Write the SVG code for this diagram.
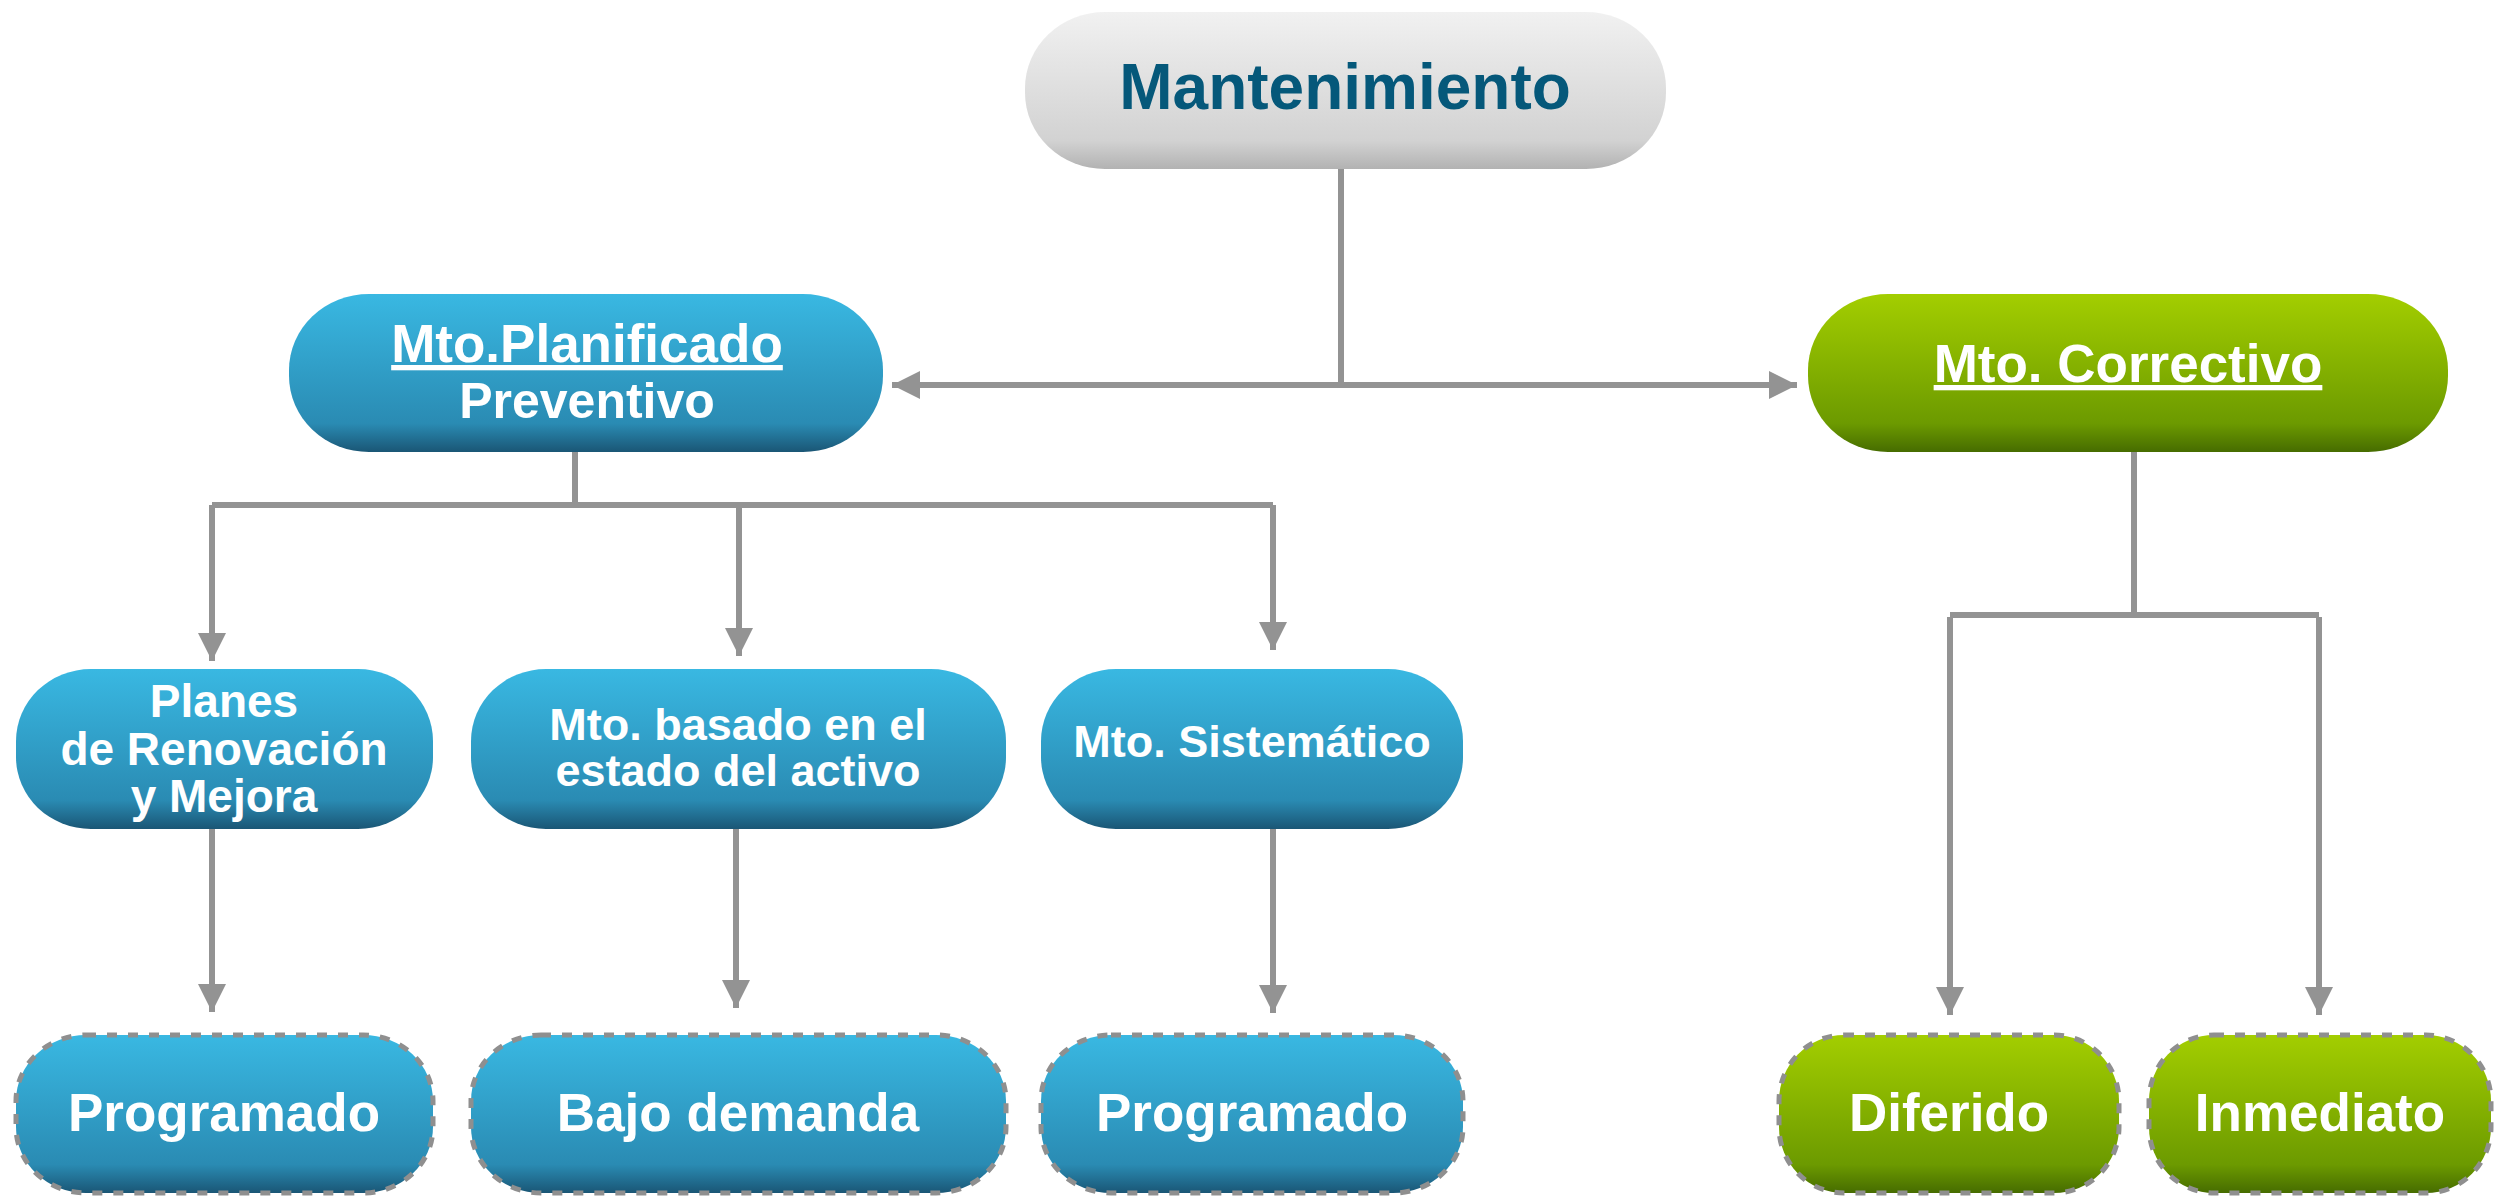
<svg xmlns="http://www.w3.org/2000/svg" width="2504" height="1197" viewBox="0 0 2504 1197">
<style>
.t{font-family:"Liberation Sans",Arial,sans-serif;font-weight:bold;fill:#ffffff;text-anchor:middle}
.c{fill:none;stroke:#939393;stroke-width:6}
.d{stroke:#8f8f8f;stroke-width:5;stroke-dasharray:10 11}
</style>
<defs>
<linearGradient id="gb" x1="0" y1="0" x2="0" y2="1">
<stop offset="0" stop-color="#39B8E2"/><stop offset="0.82" stop-color="#2A8BB3"/><stop offset="1" stop-color="#1A5675"/>
</linearGradient>
<linearGradient id="gg" x1="0" y1="0" x2="0" y2="1">
<stop offset="0" stop-color="#A3CE00"/><stop offset="0.82" stop-color="#6C9A00"/><stop offset="1" stop-color="#466C00"/>
</linearGradient>
<linearGradient id="gy" x1="0" y1="0" x2="0" y2="1">
<stop offset="0" stop-color="#F1F1F1"/><stop offset="0.82" stop-color="#D2D2D2"/><stop offset="1" stop-color="#B2B2B2"/>
</linearGradient>
<marker id="ar" viewBox="0 0 10 10" refX="10" refY="5" markerWidth="4.7" markerHeight="4.7" orient="auto" markerUnits="strokeWidth">
<path d="M0,0 L10,5 L0,10 z" fill="#939393"/>
</marker>
</defs>
<g id="connectors">
<path class="c" d="M1341,169 V385"/>
<path class="c" d="M1341,385 H892" marker-end="url(#ar)"/>
<path class="c" d="M1341,385 H1797" marker-end="url(#ar)"/>
<path class="c" d="M575,452 V505"/>
<path class="c" d="M212,505 H1273"/>
<path class="c" d="M212,505 V661" marker-end="url(#ar)"/>
<path class="c" d="M739,505 V656" marker-end="url(#ar)"/>
<path class="c" d="M1273,505 V650" marker-end="url(#ar)"/>
<path class="c" d="M212,829 V1012" marker-end="url(#ar)"/>
<path class="c" d="M736,829 V1008" marker-end="url(#ar)"/>
<path class="c" d="M1273,829 V1013" marker-end="url(#ar)"/>
<path class="c" d="M2134,452 V615"/>
<path class="c" d="M1950,615 H2319"/>
<path class="c" d="M1950,617 V1015" marker-end="url(#ar)"/>
<path class="c" d="M2319,617 V1015" marker-end="url(#ar)"/>
</g>
<g id="n-mantenimiento">
<rect x="1025" y="12" width="641" height="157" rx="80" ry="76" fill="url(#gy)"/>
<text class="t" x="1345" y="109" font-size="64" style="fill:#05587A">Mantenimiento</text>
</g>
<g id="n-planificado">
<rect x="289" y="294" width="594" height="158" rx="80" ry="76" fill="url(#gb)"/>
<text class="t" x="587" y="362" font-size="53" text-decoration="underline">Mto.Planificado</text>
<text class="t" x="587" y="418" font-size="50">Preventivo</text>
</g>
<g id="n-correctivo">
<rect x="1808" y="294" width="640" height="158" rx="80" ry="76" fill="url(#gg)"/>
<text class="t" x="2128" y="382" font-size="53" text-decoration="underline">Mto. Correctivo</text>
</g>
<g id="n-planes">
<rect x="16" y="669" width="417" height="160" rx="75" ry="72" fill="url(#gb)"/>
<text class="t" x="224" y="717" font-size="46">Planes</text>
<text class="t" x="224" y="765" font-size="46">de Renovación</text>
<text class="t" x="224" y="812" font-size="46">y Mejora</text>
</g>
<g id="n-basado">
<rect x="471" y="669" width="535" height="160" rx="75" ry="72" fill="url(#gb)"/>
<text class="t" x="738" y="740" font-size="45">Mto. basado en el</text>
<text class="t" x="738" y="786" font-size="45">estado del activo</text>
</g>
<g id="n-sistematico">
<rect x="1041" y="669" width="422" height="160" rx="75" ry="72" fill="url(#gb)"/>
<text class="t" x="1252" y="757" font-size="45">Mto. Sistemático</text>
</g>
<g id="n-programado1">
<rect class="d" x="16" y="1035" width="417" height="158" rx="70" ry="66" fill="url(#gb)"/>
<text class="t" x="224" y="1131" font-size="53">Programado</text>
</g>
<g id="n-bajo">
<rect class="d" x="471" y="1035" width="535" height="158" rx="70" ry="66" fill="url(#gb)"/>
<text class="t" x="738" y="1131" font-size="53">Bajo demanda</text>
</g>
<g id="n-programado2">
<rect class="d" x="1041" y="1035" width="422" height="158" rx="70" ry="66" fill="url(#gb)"/>
<text class="t" x="1252" y="1131" font-size="53">Programado</text>
</g>
<g id="n-diferido">
<rect class="d" x="1779" y="1035" width="340" height="158" rx="65" ry="66" fill="url(#gg)"/>
<text class="t" x="1949" y="1131" font-size="53">Diferido</text>
</g>
<g id="n-inmediato">
<rect class="d" x="2149" y="1035" width="342" height="158" rx="65" ry="66" fill="url(#gg)"/>
<text class="t" x="2320" y="1131" font-size="53">Inmediato</text>
</g>
</svg>
